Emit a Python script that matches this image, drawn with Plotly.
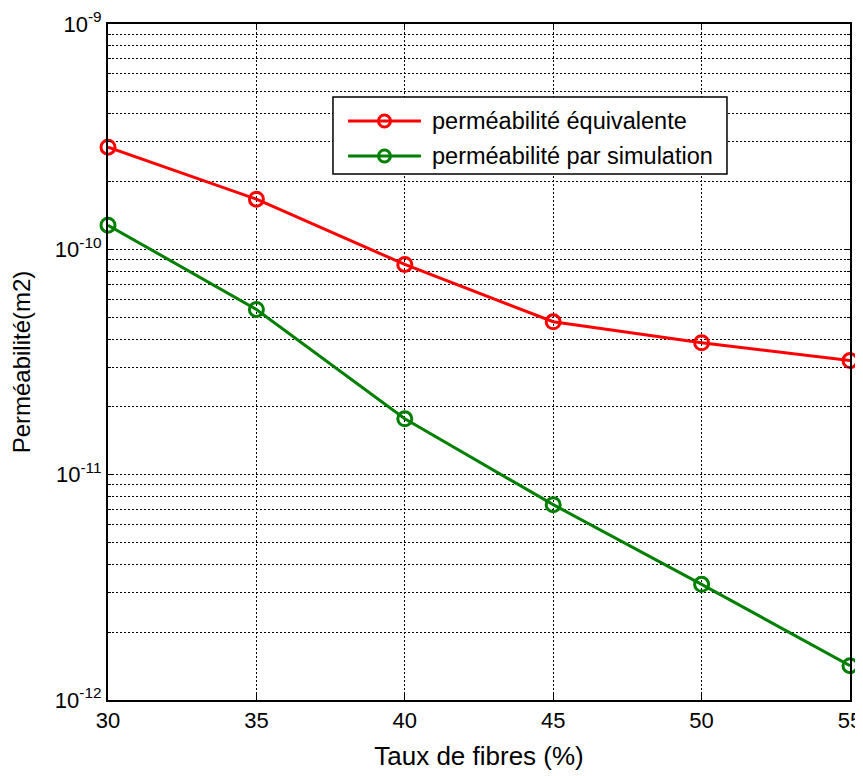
import plotly.graph_objects as go

taux = [30, 35, 40, 45, 50, 55]
perm_equiv = [2.84e-10, 1.67e-10, 8.57e-11, 4.77e-11, 3.85e-11, 3.21e-11]
perm_sim = [1.28e-10, 5.41e-11, 1.77e-11, 7.36e-12, 3.26e-12, 1.42e-12]

name_equiv = "perméabilité équivalente"
name_sim = "perméabilité par simulation"
x_title = "Taux de fibres (%)"
y_title = "Perméabilité(m2)"
y_major = [1e-12, 1e-11, 1e-10, 1e-9]
y_major_text = ["10<sup>-12</sup>", "10<sup>-11</sup>", "10<sup>-10</sup>", "10<sup>-9</sup>"]
x_ticks = [30, 35, 40, 45, 50, 55]

y_minor = [m * 10.0 ** e for e in range(-12, -9) for m in range(2, 10)]

FONT = "Liberation Sans, Arial, sans-serif"
RED = "#ff0000"
GREEN = "#008000"
GRID = dict(showgrid=True, gridcolor="black", gridwidth=1.3, griddash="2px,2px")

fig = go.Figure()
for xs, ys, nm, col in [(taux, perm_equiv, name_equiv, RED), (taux, perm_sim, name_sim, GREEN)]:
    fig.add_trace(go.Scatter(
        x=xs, y=ys, name=nm, mode="lines+markers",
        line=dict(color=col, width=3),
        marker=dict(symbol="circle-open", size=14, color=col, line=dict(width=3, color=col)),
        cliponaxis=False, showlegend=False,
    ))

# Custom MATLAB-style legend (box, line samples, markers, labels) in paper coordinates
L_X0, L_X1, L_Y0, L_Y1 = 0.3032, 0.8342, 0.778, 0.892
rows = [(0.8565, RED, name_equiv), (0.8047, GREEN, name_sim)]
shapes = [dict(type="rect", xref="paper", yref="paper", x0=L_X0, x1=L_X1, y0=L_Y0, y1=L_Y1,
               line=dict(color="black", width=1.5), fillcolor="white", layer="above")]
annotations = []
for ry, col, nm in rows:
    shapes.append(dict(type="line", xref="paper", yref="paper", x0=0.3235, x1=0.4218, y0=ry, y1=ry,
                       line=dict(color=col, width=3), layer="above"))
    shapes.append(dict(type="circle", xref="paper", yref="paper", xsizemode="pixel", ysizemode="pixel",
                       xanchor=0.3726, yanchor=ry, x0=-6, x1=6, y0=-6, y1=6,
                       line=dict(color=col, width=3), fillcolor="rgba(0,0,0,0)", layer="above"))
    annotations.append(dict(text=nm, xref="paper", yref="paper", x=0.434, y=ry, xanchor="left",
                            yanchor="middle", showarrow=False,
                            font=dict(family=FONT, size=23.5, color="black")))

# page body adds an 8px offset; size the figure so the plot area lands where the reference has it
fig.update_layout(
    width=855, height=768,
    margin=dict(l=100, r=13, t=16, b=76),
    paper_bgcolor="white", plot_bgcolor="white",
    font=dict(family=FONT, size=22, color="black"),
    showlegend=False,
    shapes=shapes, annotations=annotations,
)

fig.update_xaxes(
    range=[30, 55], tickvals=x_ticks, automargin=False,
    showline=True, linecolor="black", linewidth=2, mirror="ticks",
    ticks="inside", ticklen=6, tickcolor="black", tickwidth=1,
    zeroline=False, **GRID,
    tickfont=dict(family=FONT, size=22, color="black"),
    title=dict(text=x_title, font=dict(family=FONT, size=26, color="black"), standoff=14),
)
fig.update_yaxes(
    type="log", range=[-12, -9], automargin=False,
    tickvals=y_major, ticktext=y_major_text,
    showline=True, linecolor="black", linewidth=2, mirror="ticks",
    ticks="inside", ticklen=6, tickcolor="black", tickwidth=1,
    minor=dict(tickvals=y_minor, ticks="inside", ticklen=3, tickcolor="black", **GRID),
    zeroline=False, **GRID,
    tickfont=dict(family=FONT, size=22, color="black"),
    title=dict(text=y_title, font=dict(family=FONT, size=24, color="black"), standoff=20),
)

fig.write_html("out.html")
